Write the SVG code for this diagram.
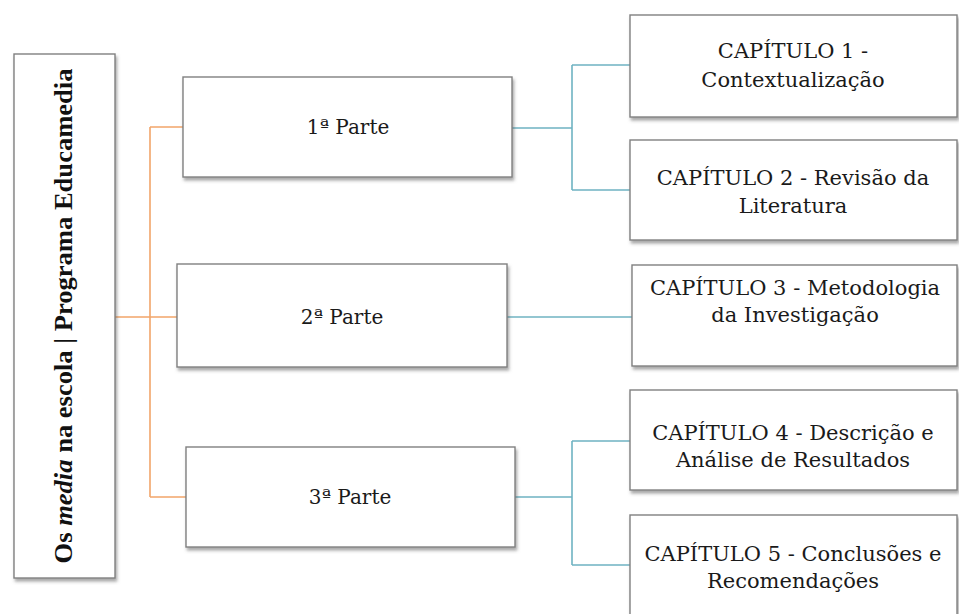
<svg xmlns="http://www.w3.org/2000/svg" width="959" height="614" viewBox="0 0 959 614">
<style>
.box{fill:#ffffff;stroke:#808080;stroke-width:1.4;filter:url(#sh)}
.t{font-family:"DejaVu Serif","Liberation Serif",serif;font-size:21px;fill:#1a1a1a;text-anchor:middle}
.p{font-family:"DejaVu Serif","Liberation Serif",serif;font-size:20px;fill:#1a1a1a;text-anchor:middle}
.root{font-family:"Liberation Serif","Times New Roman",serif;font-size:25px;font-weight:bold;fill:#111;text-anchor:middle}
.or{fill:none;stroke:#F2A56A;stroke-width:1.6}
.bl{fill:none;stroke:#6FB3C2;stroke-width:1.6}
</style>
<defs>
<filter id="sh" x="-5%" y="-5%" width="115%" height="125%">
<feDropShadow dx="1.5" dy="3" stdDeviation="1.8" flood-color="#555" flood-opacity="0.5"/>
</filter>
</defs>
<rect width="959" height="614" fill="#ffffff"/>
<g id="connectors">
<path class="or" d="M115,317 H177 M150,127 V497 M150,127 H183 M150,497 H186"/>
<path class="bl" d="M512,128 H572 M572,65 V190 M572,65 H630 M572,190 H630"/>
<path class="bl" d="M507,317 H632"/>
<path class="bl" d="M515,497 H572 M572,441 V565 M572,441 H630 M572,565 H630"/>
</g>
<g id="root">
<rect class="box" x="14" y="54" width="101" height="524"/>
<text class="root" transform="translate(72,316) rotate(-90)" textLength="495" lengthAdjust="spacingAndGlyphs">Os <tspan font-style="italic">media</tspan> na escola | Programa Educamedia</text>
</g>
<g id="parte1">
<rect class="box" x="183" y="77" width="329" height="100"/>
<text class="p" x="348" y="134">1ª Parte</text>
</g>
<g id="parte2">
<rect class="box" x="177" y="264" width="330" height="103"/>
<text class="p" x="342" y="324">2ª Parte</text>
</g>
<g id="parte3">
<rect class="box" x="186" y="447" width="329" height="100"/>
<text class="p" x="350" y="504">3ª Parte</text>
</g>
<g id="cap1">
<rect class="box" x="630" y="15" width="327" height="102"/>
<text class="t" x="793" y="58">CAPÍTULO 1 -</text>
<text class="t" x="793" y="87">Contextualização</text>
</g>
<g id="cap2">
<rect class="box" x="630" y="140" width="327" height="100"/>
<text class="t" x="793" y="185">CAPÍTULO 2 - Revisão da</text>
<text class="t" x="793" y="213">Literatura</text>
</g>
<g id="cap3">
<rect class="box" x="632" y="265" width="325" height="101"/>
<text class="t" x="795" y="295">CAPÍTULO 3 - Metodologia</text>
<text class="t" x="795" y="322">da Investigação</text>
</g>
<g id="cap4">
<rect class="box" x="630" y="390" width="327" height="100"/>
<text class="t" x="793" y="440">CAPÍTULO 4 - Descrição e</text>
<text class="t" x="793" y="467">Análise de Resultados</text>
</g>
<g id="cap5">
<rect class="box" x="630" y="515" width="327" height="102"/>
<text class="t" x="793" y="561">CAPÍTULO 5 - Conclusões e</text>
<text class="t" x="793" y="588">Recomendações</text>
</g>
</svg>
